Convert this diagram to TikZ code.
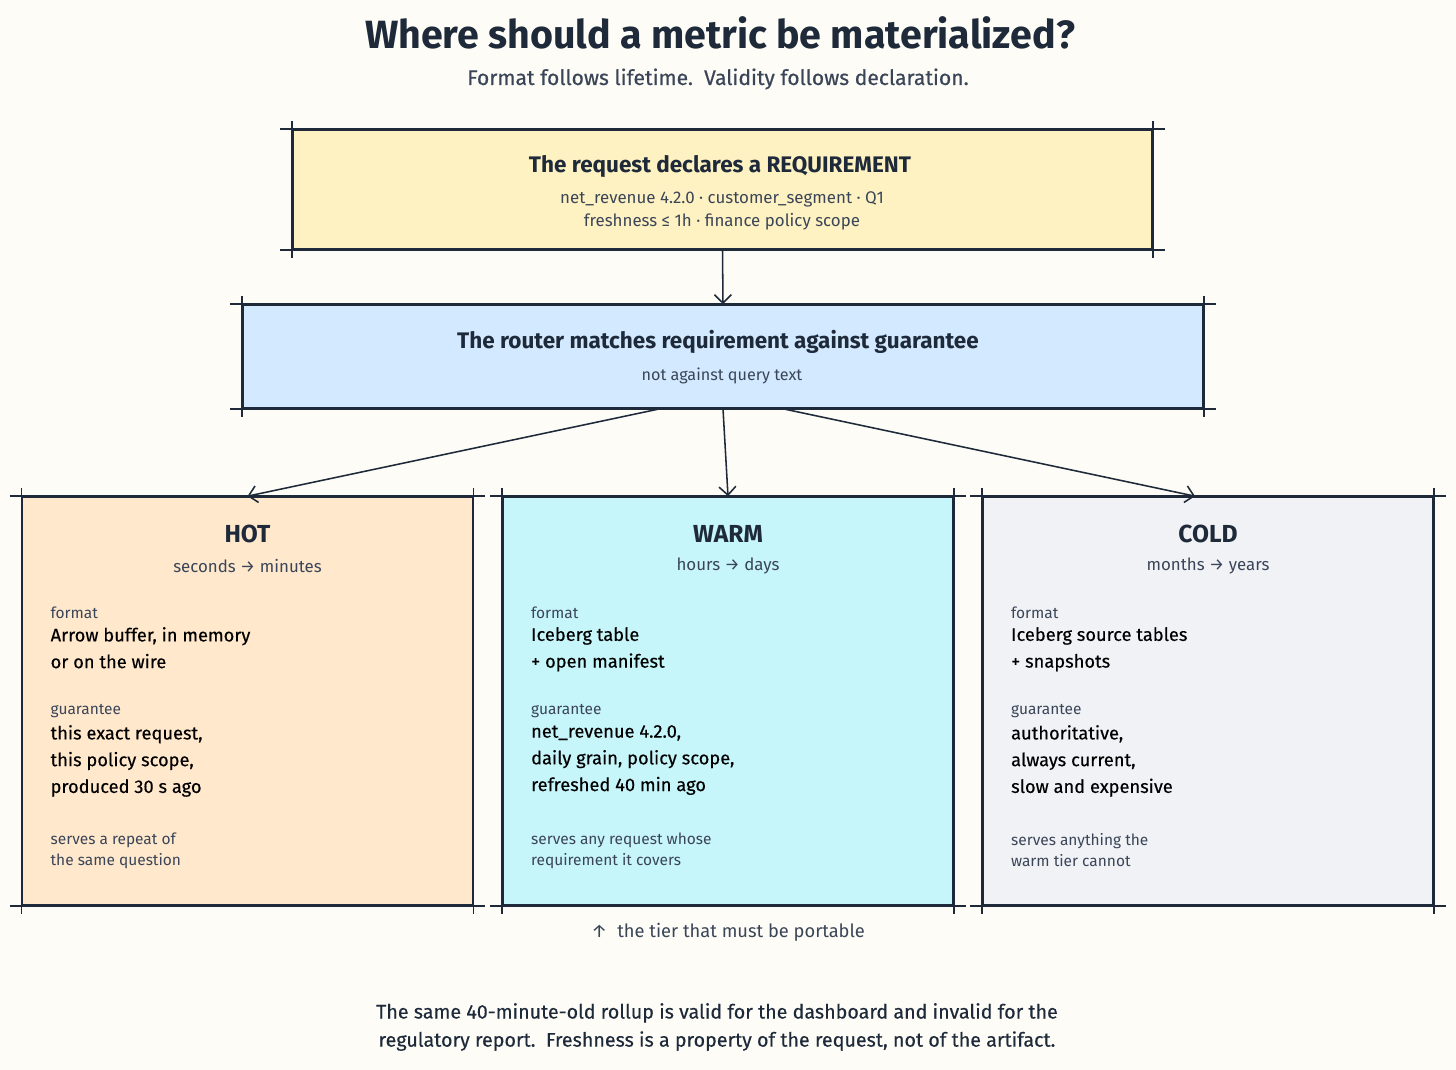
\documentclass[tikz,border=0pt]{standalone}
\usepackage{fontspec}
\setmainfont{Fira Sans}
\usetikzlibrary{arrows.meta,positioning}
\definecolor{paper}{HTML}{FDFCF6}
\definecolor{ink}{HTML}{1E2A3A}
\definecolor{soft}{HTML}{3A4558}
\definecolor{reqfill}{HTML}{FFF2C2}
\definecolor{routefill}{HTML}{D2E9FF}
\definecolor{hotfill}{HTML}{FFE8CC}
\definecolor{warmfill}{HTML}{C6F5FA}
\definecolor{coldfill}{HTML}{F0F2F5}
\newcommand{\sketchbox}[1]{%
  \draw[ink,line width=1.1pt] ([xshift=-0.3cm]#1.north west) -- ([xshift=0.3cm]#1.north east);
  \draw[ink,line width=1.1pt] ([xshift=-0.3cm]#1.south west) -- ([xshift=0.3cm]#1.south east);
  \draw[ink,line width=1.1pt] ([yshift=0.2cm]#1.north west) -- ([yshift=-0.2cm]#1.south west);
  \draw[ink,line width=1.1pt] ([yshift=0.2cm]#1.north east) -- ([yshift=-0.2cm]#1.south east);}
\begin{document}
\begin{tikzpicture}[x=0.025cm,y=-0.025cm,
  box/.style={draw=ink,line width=1.1pt,inner sep=0pt},
  tier/.style={box,minimum width=11.25cm,minimum height=10.2cm},
  head/.style={font=\fontsize{16}{18}\selectfont\bfseries,text=ink},
  sub/.style={font=\fontsize{11.5}{14}\selectfont,text=soft},
  lab/.style={font=\fontsize{11}{13}\selectfont,text=soft,anchor=west},
  body/.style={font=\fontsize{13}{19}\selectfont\addfontfeature{FakeBold=0.3},text=black,anchor=north west,align=left},
  link/.style={-{Straight Barb[length=6pt]},ink,line width=1.1pt}]

  % background
  \fill[paper] (0,0) rectangle (1456,1070);

  % title
  \node[font=\fontsize{28}{30}\selectfont\bfseries,text=ink] (title) at (720,33) {Where should a metric be materialized?};
  \node[font=\fontsize{15}{16}\selectfont\addfontfeature{FakeBold=0.5},text=soft] (subtitle) at (718,79) {Format follows lifetime.\ \ Validity follows declaration.};

  % request and router
  \node[box,fill=reqfill,minimum width=21.475cm,minimum height=2.975cm] (req) at (722.5,189.5) {};
  \node[head] at (720,166) {The request declares a REQUIREMENT};
  \node[sub,align=center,font=\fontsize{12}{16}\selectfont] at (722,211) {net\_revenue 4.2.0 · customer\_segment · Q1\\freshness ≤ 1h · finance policy scope};
  \sketchbox{req}

  \node[box,fill=routefill,minimum width=24cm,minimum height=2.575cm] (router) at (723,356.5) {};
  \node[head] at (718,342) {The router matches requirement against guarantee};
  \node[sub] at (722,376) {not against query text};
  \sketchbox{router}

  % tiers
  \node[tier,fill=hotfill] (hot) at (247.5,701) {};
  \node[tier,fill=warmfill] (warm) at (728,701) {};
  \node[tier,fill=coldfill] (cold) at (1208,701) {};
  \foreach \t in {hot,warm,cold} {\sketchbox{\t}}

  \foreach \t/\name/\span/\fa/\fb/\ga/\gb/\gc/\sa/\sb in {
    hot/HOT/seconds → minutes/{Arrow buffer, in memory}/or on the wire/{this exact request,}/{this policy scope,}/produced 30 s ago/serves a repeat of/the same question,
    warm/WARM/hours → days/Iceberg table/+ open manifest/{net\_revenue 4.2.0,}/{daily grain, policy scope,}/refreshed 40 min ago/serves any request whose/requirement it covers,
    cold/COLD/months → years/Iceberg source tables/+ snapshots/{authoritative,}/{always current,}/slow and expensive/serves anything the/warm tier cannot} {
    \node[head,font=\fontsize{17.5}{20}\selectfont\bfseries] at ([yshift=-0.95cm]\t.north) {\name};
    \node[sub,font=\fontsize{12}{14}\selectfont] at ([yshift=-1.75cm]\t.north) {\span};
    \node[lab] at ([xshift=0.6cm,yshift=-2.92cm]\t.north west) {format};
    \node[body] at ([xshift=0.6cm,yshift=-3.15cm]\t.north west) {\fa\\\fb};
    \node[lab] at ([xshift=0.6cm,yshift=-5.37cm]\t.north west) {guarantee};
    \node[body] at ([xshift=0.6cm,yshift=-5.6cm]\t.north west) {\ga\\\gb\\\gc};
    \node[lab,align=left,anchor=north west,font=\fontsize{11}{15}\selectfont] at ([xshift=0.6cm,yshift=-8.3cm]\t.north west) {\sa\\\sb};
  }

  % connectors
  \draw[link] (req.south) -- (router.north);
  \draw[link] ([xshift=-1.575cm]router.south) -- (hot.north);
  \draw[link] (router.south) -- (warm.north);
  \draw[link] ([xshift=1.5cm]router.south) -- ([xshift=-0.325cm]cold.north);

  % notes
  \node[sub,font=\fontsize{13}{14}\selectfont,below=0.3cm of warm] (portable) {↑\ \ the tier that must be portable};
  \node[font=\fontsize{14}{20}\selectfont\addfontfeature{FakeBold=0.3},text=ink,align=center] (footer) at (717,1027) {The same 40-minute-old rollup is valid for the dashboard and invalid for the\\regulatory report.\ \ Freshness is a property of the request, not of the artifact.};
\end{tikzpicture}
\end{document}
